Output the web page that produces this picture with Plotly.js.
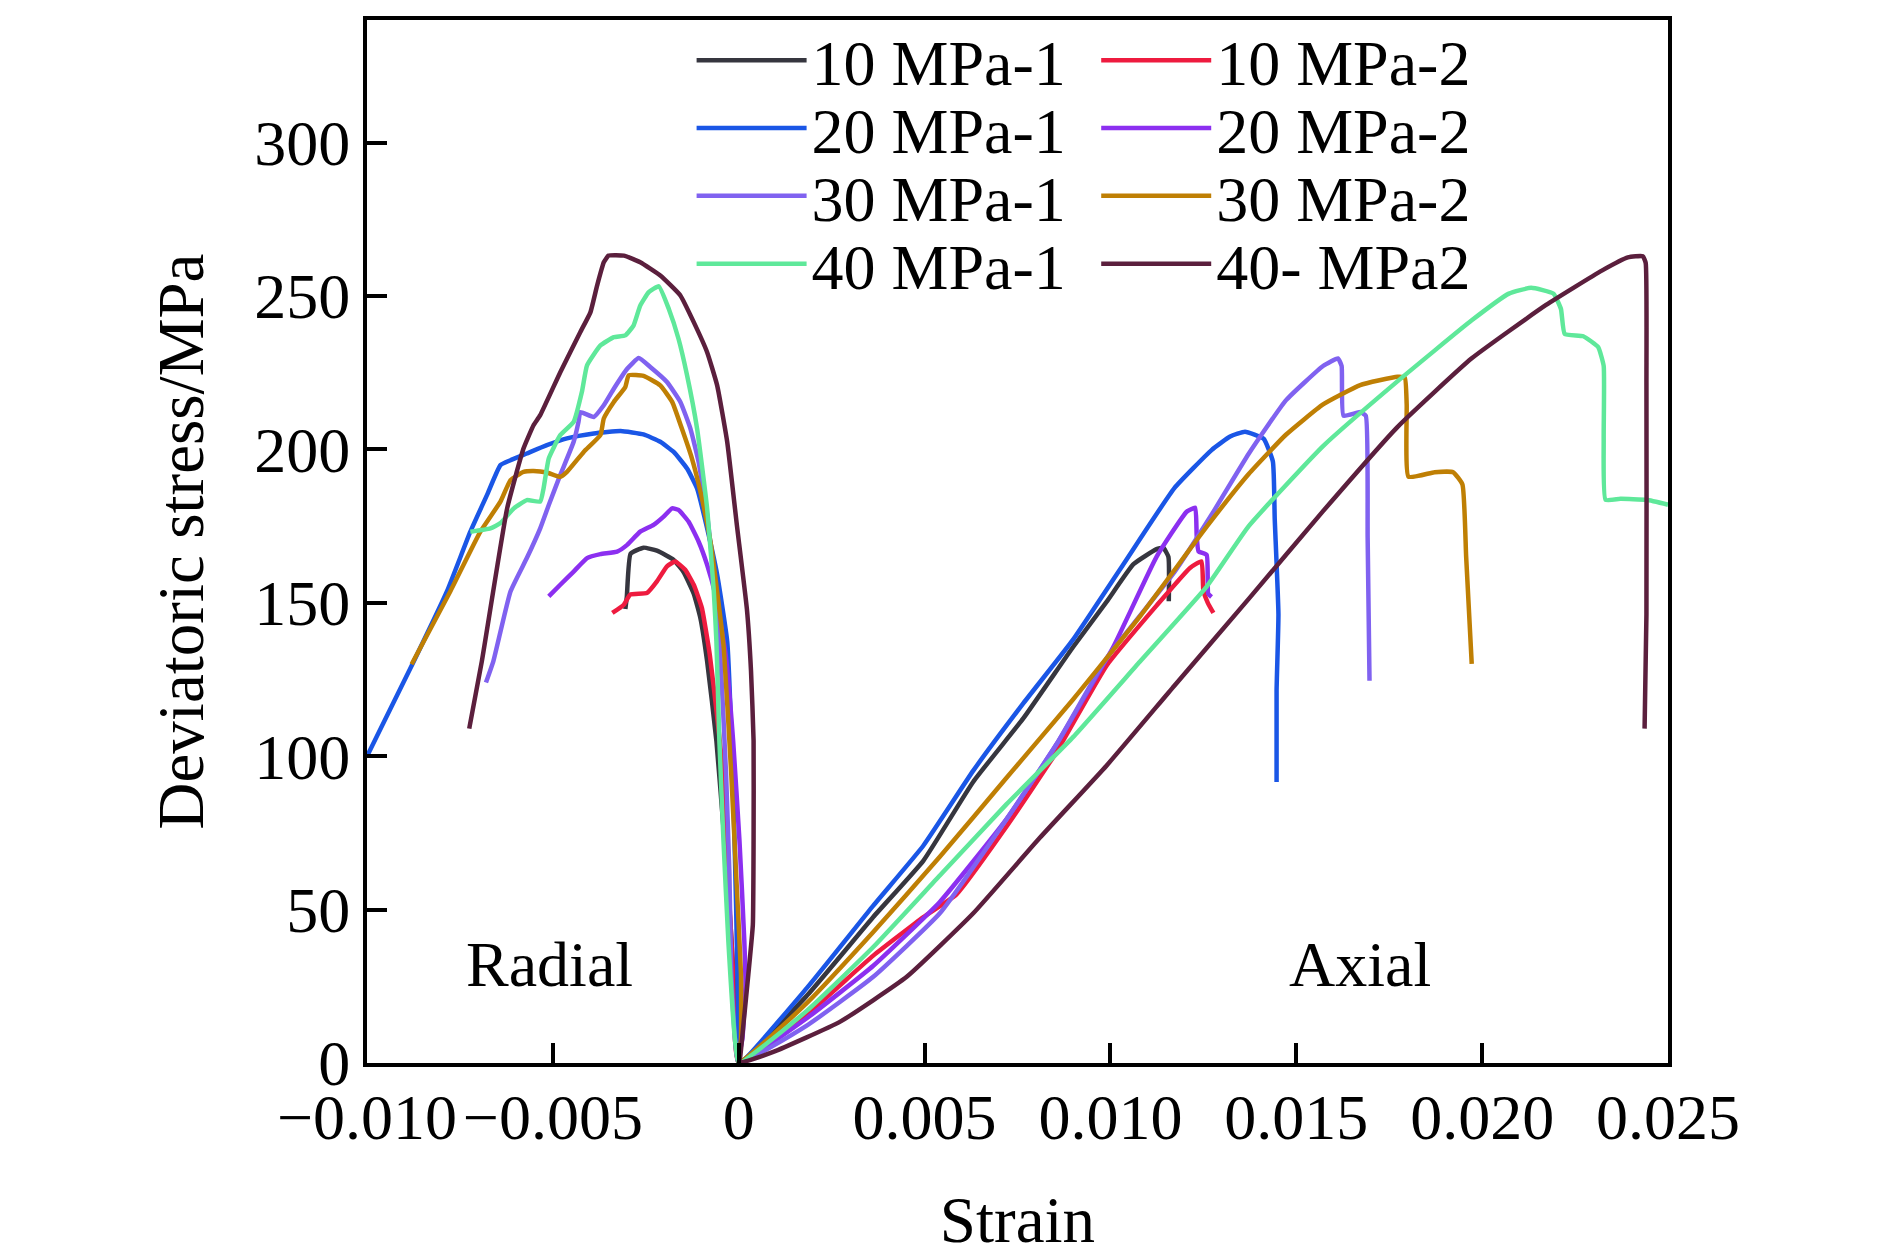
<!DOCTYPE html>
<html>
<head>
<meta charset="utf-8">
<script src="https://cdn.plot.ly/plotly-3.0.1.min.js"></script>
<style>
  html, body { margin: 0; padding: 0; background: #ffffff; }
  #chart { width: 1890px; height: 1259px; }
</style>
</head>
<body>
<div id="chart"></div>
<script>
// ---- Series names and colours ----
const seriesNames = ['10 MPa-1', '10 MPa-2', '20 MPa-1', '20 MPa-2', '30 MPa-1', '30 MPa-2', '40 MPa-1', '40- MPa2'];
const seriesColors = ['#36363f', '#ee1b3f', '#1a56e6', '#8c2ff0', '#8062f0', '#bf7f04', '#5fe89a', '#5b1f3d'];

// ---- 10 MPa-1 ----
const radialStrain10a = [-0.00305, -0.00301, -0.00291, -0.00256, -0.0022, -0.00175, -0.00148, -0.00121, -0.00103, -0.00085, -0.0006, -0.0004, -0.00022, -0.0001, 0];
const radialStress10a = [148, 152, 166, 168, 167, 164, 160, 153, 145, 131, 105, 75, 45, 20, 0];
const axialStrain10a = [0, 0.00183, 0.00362, 0.00497, 0.00631, 0.00766, 0.009, 0.0099, 0.01062, 0.01124, 0.01142, 0.01156, 0.01157];
const axialStress10a = [0, 21.9, 47.6, 66, 91.7, 112.4, 135.7, 150.4, 162.6, 167.5, 168, 165, 150.5];

// ---- 10 MPa-2 ----
const radialStrain10b = [-0.0034, -0.00309, -0.00292, -0.00247, -0.0022, -0.00193, -0.00171, -0.00144, -0.00121, -0.00099, -0.00078, -0.0006, -0.00042, -0.00029, -0.00015, 0];
const radialStress10b = [146.7, 149.4, 152.7, 153.2, 157, 161.9, 163.5, 160.8, 155.9, 148.3, 133.2, 115, 94, 61.7, 29.3, 0];
const axialStrain10b = [0, 0.00183, 0.00362, 0.00497, 0.00586, 0.0072, 0.00855, 0.0099, 0.01124, 0.01214, 0.01245, 0.0125, 0.01262, 0.01277];
const axialStress10b = [0, 15.8, 35, 47.6, 55, 77, 101.4, 129.6, 149.1, 161.4, 163.5, 154, 150, 146.7];

// ---- 20 MPa-1 ----
const radialStrain20a = [-0.0100, -0.00874, -0.00785, -0.00722, -0.00677, -0.00641, -0.00614, -0.0057, -0.00516, -0.00462, -0.0039, -0.00318, -0.00256, -0.00211, -0.00175, -0.00139, -0.00112, -0.00085, -0.00058, -0.00031, -0.00016, -0.00007, -0.00002, 0];
const radialStress20a = [100, 131, 153.7, 173.2, 185.2, 194.9, 196.5, 198.7, 201.4, 203.6, 205.2, 206, 204.9, 202.5, 199.2, 193.8, 187.3, 174.3, 159.2, 137.5, 94, 51, 18, 0];
const axialStrain20a = [0, 0.00183, 0.00362, 0.00497, 0.00631, 0.00766, 0.009, 0.01035, 0.01172, 0.01272, 0.01322, 0.01362, 0.01412, 0.01437, 0.01442, 0.01452, 0.01447, 0.01447];
const axialStress20a = [0, 24.4, 51.3, 70.9, 95.3, 117.3, 138.1, 162.6, 187.4, 199.8, 204.2, 205.8, 203.5, 196.1, 177.4, 146.3, 121.4, 91.6];

// ---- 20 MPa-2 ----
const radialStrain20b = [-0.00511, -0.0048, -0.00444, -0.00408, -0.00372, -0.00327, -0.003, -0.00265, -0.00229, -0.00202, -0.00179, -0.00162, -0.00135, -0.00108, -0.00085, -0.00063, -0.00035, -0.00015, 0.00002, 0.00015, 0.00018, 0.0001, 0];
const radialStress20b = [152.1, 155.9, 160.2, 164.6, 165.9, 166.7, 168.9, 173.2, 175.4, 178.1, 180.8, 180.3, 176.5, 170, 162.4, 152.7, 133, 105, 72.5, 40, 25, 8, 0];
const axialStrain20b = [0, 0.00183, 0.00362, 0.00541, 0.0072, 0.00855, 0.01008, 0.01124, 0.01205, 0.01228, 0.01232, 0.01237, 0.01259, 0.01263, 0.01272];
const axialStress20b = [0, 14.6, 31.7, 52.5, 79.4, 103.9, 135.7, 165, 179.7, 181, 172, 166.8, 165.6, 153, 151.9];

// ---- 30 MPa-1 ----
const radialStrain30a = [-0.0068, -0.0066, -0.00614, -0.0057, -0.00534, -0.00511, -0.0048, -0.00444, -0.00431, -0.00426, -0.0039, -0.00363, -0.00336, -0.003, -0.00269, -0.00238, -0.00193, -0.00157, -0.0013, -0.00108, -0.00085, -0.00067, -0.0005, -0.00034, -0.00025, -0.0002, -0.0001, 0];
const radialStress30a = [124, 131, 153.7, 164.6, 174.3, 181.9, 191.7, 202.5, 209, 212.2, 210.6, 214.4, 219.8, 226.3, 229.8, 226.9, 222, 215.5, 206.8, 196, 178.7, 159.2, 134, 94, 61.7, 29.3, 7.6, 0];
const axialStrain30a = [0, 0.00183, 0.00362, 0.00541, 0.0072, 0.00855, 0.0099, 0.01172, 0.01272, 0.01372, 0.01472, 0.01572, 0.01612, 0.01622, 0.01627, 0.01672, 0.01687, 0.01692, 0.01697];
const axialStress30a = [0, 12.2, 28.1, 48.8, 79.4, 103.9, 132, 160, 178.7, 198.6, 216, 227.2, 229.7, 227.2, 211, 212.2, 211, 171.2, 124.6];

// ---- 30 MPa-2 ----
const radialStrain30b = [-0.0088, -0.00776, -0.00695, -0.00641, -0.00614, -0.00579, -0.00552, -0.00516, -0.0048, -0.00462, -0.00417, -0.00372, -0.00363, -0.00336, -0.00305, -0.00296, -0.00256, -0.00211, -0.00179, -0.00153, -0.00126, -0.00103, -0.00076, -0.00058, -0.0004, -0.0002, -0.00007, 0.00006, 0.00006, 0];
const radialStress30b = [130, 153.7, 173.2, 183, 190, 192.7, 193, 192.5, 191.1, 192.7, 199.2, 204.7, 210.1, 215.5, 220.4, 224.2, 224, 220.9, 215.5, 206.8, 197.1, 186.2, 170, 153.7, 135, 94, 61.7, 29.3, 7.6, 0];
const axialStrain30b = [0, 0.00183, 0.00362, 0.00541, 0.0072, 0.009, 0.01079, 0.0126, 0.01372, 0.01472, 0.01572, 0.01672, 0.01772, 0.01792, 0.01797, 0.01802, 0.01872, 0.01922, 0.01947, 0.01957, 0.01972];
const axialStress30b = [0, 19.5, 42.7, 67.2, 92.9, 118.6, 145.5, 175, 192, 204.8, 214.7, 221, 223.7, 223.4, 214.7, 191.1, 192.6, 192.6, 188.6, 165, 130.1];

// ---- 40 MPa-1 ----
const radialStrain40a = [-0.00722, -0.00668, -0.00641, -0.00605, -0.0057, -0.00534, -0.00525, -0.00511, -0.0048, -0.00444, -0.00422, -0.00408, -0.00372, -0.00336, -0.00305, -0.00283, -0.00265, -0.00242, -0.00215, -0.00188, -0.00162, -0.00139, -0.00112, -0.00085, -0.00067, -0.0006, -0.00052, -0.00041, -0.00028, -0.0001, 0];
const radialStress40a = [173.2, 174.3, 176, 180.8, 183.5, 183, 187.3, 197.1, 204.7, 209, 218.7, 227.4, 233.9, 236.6, 237.2, 240.4, 246.9, 251.3, 253.2, 245.8, 236.1, 224.2, 206.8, 180.8, 153.7, 137.5, 105, 72.5, 40, 7.6, 0];
const axialStrain40a = [0, 0.00183, 0.00362, 0.00541, 0.0072, 0.009, 0.01079, 0.01259, 0.01372, 0.01572, 0.01772, 0.01972, 0.02072, 0.02132, 0.02192, 0.02212, 0.02222, 0.02272, 0.02312, 0.02327, 0.02327, 0.02332, 0.02372, 0.02442, 0.025];
const axialStress40a = [0, 17, 37.8, 61.1, 84.3, 106.3, 130.8, 155.3, 175, 201.1, 222.2, 242.1, 250.8, 252.7, 250.8, 245.8, 237.7, 236.9, 233.4, 227.2, 203.5, 183.6, 183.9, 183.6, 182];

// ---- 40 MPa-2 ----
const radialStrain40b = [-0.00725, -0.00691, -0.00623, -0.00579, -0.00552, -0.00534, -0.0048, -0.00426, -0.00399, -0.00381, -0.00363, -0.0035, -0.00309, -0.00265, -0.00211, -0.00157, -0.00121, -0.00085, -0.00058, -0.00031, -0.00005, 0.00022, 0.00033, 0.0004, 0.0004, 0.00038, 0.00026, 0.00013, 0.00004, 0];
const radialStress40b = [109, 131, 180.8, 200.3, 207.9, 211.2, 225.2, 238.3, 244.7, 253.4, 261, 263.2, 263.2, 261, 256.7, 250.2, 241.5, 231.7, 220.9, 202.5, 175.4, 148, 128, 105, 72.5, 45, 29, 13, 2, 0];
const axialStrain40b = [0, 0.00093, 0.00272, 0.00452, 0.00631, 0.0081, 0.0099, 0.01172, 0.01372, 0.01572, 0.01772, 0.01972, 0.02172, 0.02322, 0.02392, 0.02432, 0.0244, 0.02442, 0.02442, 0.02437];
const axialStress40b = [0, 3.6, 13.4, 28.1, 48.8, 73.4, 97, 123, 151.3, 179.9, 207.3, 229.7, 247.1, 258.3, 262.6, 263, 260.8, 221, 146.3, 109];

// ---- Tick labels ----
const strainTickValues = [-0.010, -0.005, 0, 0.005, 0.010, 0.015, 0.020, 0.025];
const strainTickLabels = ['\u22120.010', '\u22120.005', '0', '0.005', '0.010', '0.015', '0.020', '0.025'];
const stressTickValues = [0, 50, 100, 150, 200, 250, 300];
const stressTickLabels = ['0', '50', '100', '150', '200', '250', '300'];
const regionLabels = ['Radial', 'Axial'];

const radialStrains = [radialStrain10a, radialStrain10b, radialStrain20a, radialStrain20b, radialStrain30a, radialStrain30b, radialStrain40a, radialStrain40b];
const radialStresses = [radialStress10a, radialStress10b, radialStress20a, radialStress20b, radialStress30a, radialStress30b, radialStress40a, radialStress40b];
const axialStrains = [axialStrain10a, axialStrain10b, axialStrain20a, axialStrain20b, axialStrain30a, axialStrain30b, axialStrain40a, axialStrain40b];
const axialStresses = [axialStress10a, axialStress10b, axialStress20a, axialStress20b, axialStress30a, axialStress30b, axialStress40a, axialStress40b];

const FONT = '"Liberation Serif", "Times New Roman", Times, serif';

const traces = seriesNames.map((name, i) => ({
  type: 'scatter',
  mode: 'lines',
  name: name,
  x: radialStrains[i].concat(axialStrains[i].slice(1)),
  y: radialStresses[i].concat(axialStresses[i].slice(1)),
  line: { color: seriesColors[i], width: 4.5, shape: 'spline', smoothing: 0.4 },
  legend: i === 0 ? 'legend' : 'legend' + (i + 1),
  hoverinfo: 'x+y+name'
}));

// Legend placement: 4 rows x 2 columns, each entry its own legend box
const legendCols = [0.2495, 0.5605];
const legendRows = [0.961, 0.896, 0.831, 0.766];
const layout = {
  width: 1890,
  height: 1259,
  margin: { l: 367, r: 222, t: 18, b: 196 },
  paper_bgcolor: '#ffffff',
  plot_bgcolor: '#ffffff',
  font: { family: FONT, size: 64, color: '#000000' },
  showlegend: true,
  xaxis: {
    range: [-0.010, 0.025],
    tickmode: 'array',
    tickvals: strainTickValues,
    ticktext: strainTickLabels,
    ticks: 'inside',
    ticklen: 20,
    tickwidth: 4,
    tickcolor: '#000000',
    ticklabelstandoff: -5,
    showline: true,
    linewidth: 4,
    linecolor: '#000000',
    mirror: true,
    showgrid: false,
    zeroline: false,
    tickfont: { family: FONT, size: 64, color: '#000000' },
    title: { text: 'Strain', font: { family: FONT, size: 65, color: '#000000' }, standoff: 46 },
    automargin: false
  },
  yaxis: {
    range: [0, 340],
    tickmode: 'array',
    tickvals: stressTickValues,
    ticktext: stressTickLabels,
    ticks: 'inside',
    ticklen: 20,
    tickwidth: 4,
    tickcolor: '#000000',
    showline: true,
    linewidth: 4,
    linecolor: '#000000',
    mirror: true,
    showgrid: false,
    zeroline: false,
    tickfont: { family: FONT, size: 64, color: '#000000' },
    title: { text: 'Deviatoric stress/MPa', font: { family: FONT, size: 65, color: '#000000' }, standoff: 30 },
    automargin: false
  },
  annotations: [
    { x: -0.0051, y: 32, xref: 'x', yref: 'y', text: regionLabels[0], showarrow: false,
      font: { family: FONT, size: 64, color: '#000000' }, xanchor: 'center', yanchor: 'middle' },
    { x: 0.01671, y: 32, xref: 'x', yref: 'y', text: regionLabels[1], showarrow: false,
      font: { family: FONT, size: 64, color: '#000000' }, xanchor: 'center', yanchor: 'middle' }
  ]
};

seriesNames.forEach((name, i) => {
  const key = i === 0 ? 'legend' : 'legend' + (i + 1);
  layout[key] = {
    x: legendCols[i % 2],
    y: legendRows[Math.floor(i / 2)],
    xanchor: 'left',
    yanchor: 'middle',
    bgcolor: 'rgba(0,0,0,0)',
    borderwidth: 0,
    itemwidth: 110,
    font: { family: FONT, size: 64, color: '#000000' },
    orientation: 'v'
  };
});

Plotly.newPlot('chart', traces, layout, { displayModeBar: false, staticPlot: true });
</script>
</body>
</html>
